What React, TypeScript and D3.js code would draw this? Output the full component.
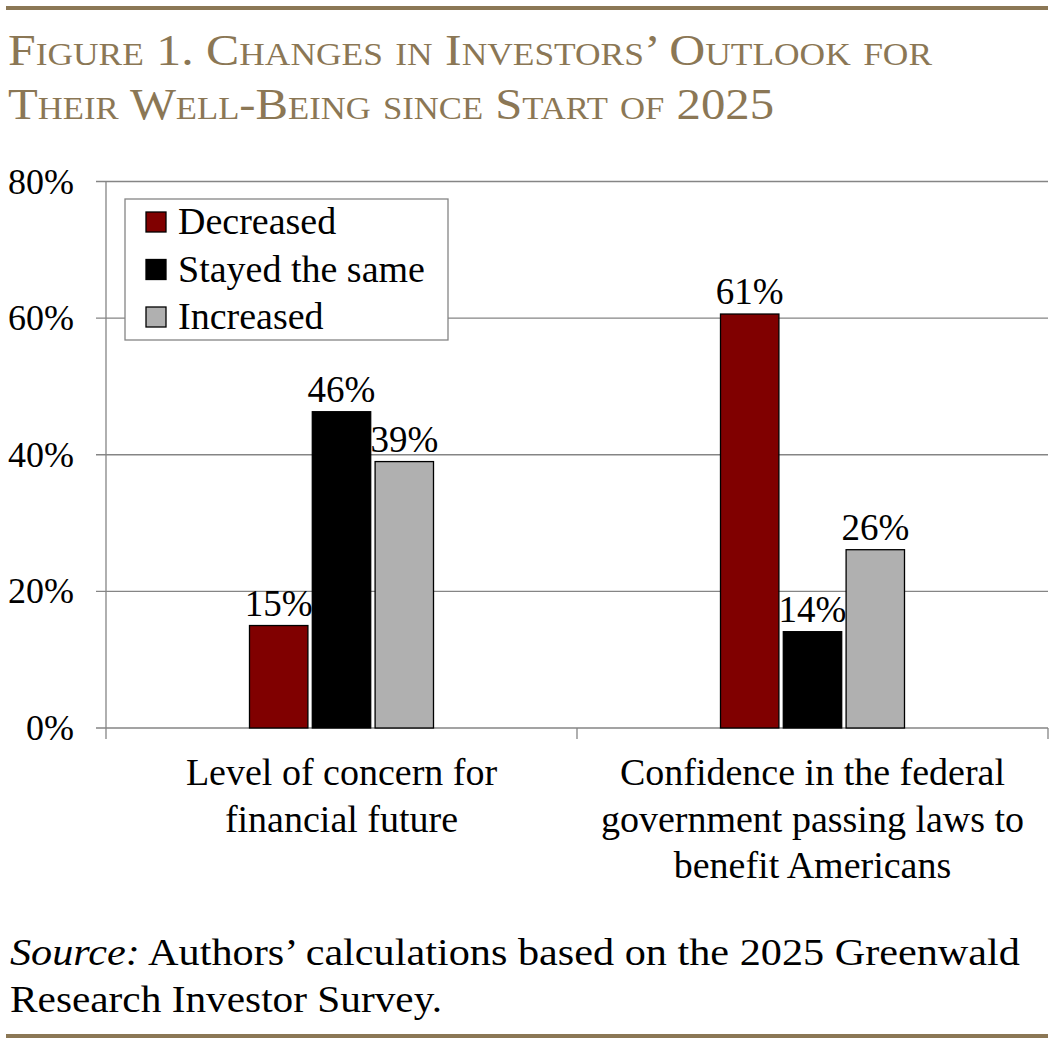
import { useEffect, useRef } from 'react'
import * as d3 from 'd3'

const categories = [
  ['Level of concern for', 'financial future'],
  ['Confidence in the federal', 'government passing laws to', 'benefit Americans'],
]
const seriesNames = ['Decreased', 'Stayed the same', 'Increased']
const seriesColors = ['#800000', '#000000', '#b0b0b0']
const decreased = [15, 60.6]
const stayedSame = [46.3, 14.1]
const increased = [39, 26.1]
const yTicks = [0, 20, 40, 60, 80]

const titleLines = ['Figure 1. Changes in Investors\u2019 Outlook for', 'Their Well-Being since Start of 2025']
const titleLengths = [924, 766]
const gold = '#8b7755'
const serif = '"Liberation Serif", "Times New Roman", serif'

export default function App() {
  const svgRef = useRef<SVGSVGElement>(null)
  const width = 1056
  const height = 1044

  useEffect(() => {
    if (!svgRef.current) return
    const svg = d3.select(svgRef.current)
    svg.selectAll('*').remove()

    // rules top and bottom
    svg.append('rect').attr('x', 6).attr('y', 6).attr('width', 1042).attr('height', 4).attr('fill', gold)
    svg.append('rect').attr('x', 6).attr('y', 1034).attr('width', 1042).attr('height', 4).attr('fill', gold)

    // title
    titleLines.forEach((t, i) => {
      svg.append('text')
        .attr('x', 8).attr('y', 65 + i * 54)
        .attr('fill', gold)
        .attr('font-family', serif)
        .attr('font-size', 45)
        .attr('textLength', titleLengths[i]).attr('lengthAdjust', 'spacingAndGlyphs')
        .style('font-variant', 'small-caps')
        .text(t)
    })

    const left = 106, right = 1048, top = 181.5, bottom = 728
    const x0 = d3.scaleBand<number>().domain(categories.map((_, i) => i)).range([left, right]).paddingInner(0).paddingOuter(0)
    const inner = d3.scaleBand<number>().domain([0, 1, 2]).range([0, 184]).paddingInner(0.07)
    const y = d3.scaleLinear().domain([0, 80]).range([bottom, top])

    // gridlines + y ticks
    const g = svg.append('g')
    yTicks.forEach(t => {
      g.append('line')
        .attr('x1', left - 10).attr('x2', right)
        .attr('y1', y(t)).attr('y2', y(t))
        .attr('stroke', '#858585').attr('stroke-width', 1.3)
      g.append('text')
        .attr('x', 74).attr('y', y(t) + 12)
        .attr('text-anchor', 'end')
        .attr('font-family', serif).attr('font-size', 36)
        .text(`${t}%`)
    })
    // y axis line
    g.append('line').attr('x1', left).attr('x2', left).attr('y1', top).attr('y2', bottom)
      .attr('stroke', '#858585').attr('stroke-width', 1.3)
    // x category ticks
    ;[left, left + x0.bandwidth(), right].forEach(xx => {
      g.append('line').attr('x1', xx).attr('x2', xx).attr('y1', bottom).attr('y2', bottom + 11)
        .attr('stroke', '#858585').attr('stroke-width', 1.3)
    })

    const series = [decreased, stayedSame, increased]
    categories.forEach((_, ci) => {
      const gx = x0(ci)! + (x0.bandwidth() - 184) / 2
      series.forEach((vals, si) => {
        const v = vals[ci]
        const bx = gx + inner(si)!
        g.append('rect')
          .attr('x', bx).attr('y', y(v))
          .attr('width', inner.bandwidth()).attr('height', bottom - y(v))
          .attr('fill', seriesColors[si])
          .attr('stroke', '#000').attr('stroke-width', 1.3)
        g.append('text')
          .attr('x', bx + inner.bandwidth() / 2).attr('y', y(v) - 10)
          .attr('text-anchor', 'middle')
          .attr('font-family', serif).attr('font-size', 37)
          .text(`${v.toFixed(0)}%`)
      })
    })

    // category labels
    categories.forEach((lines, ci) => {
      const cx = x0(ci)! + x0.bandwidth() / 2
      lines.forEach((l, li) => {
        g.append('text')
          .attr('x', cx).attr('y', 785 + li * 46.5)
          .attr('text-anchor', 'middle')
          .attr('font-family', serif).attr('font-size', 38)
          .text(l)
      })
    })

    // legend
    const lg = svg.append('g')
    lg.append('rect').attr('x', 125).attr('y', 199).attr('width', 323).attr('height', 141)
      .attr('fill', '#fff').attr('stroke', '#858585').attr('stroke-width', 1.3)
    seriesNames.forEach((name, i) => {
      const cy = 222 + i * 47.5
      lg.append('rect').attr('x', 146).attr('y', cy - 10).attr('width', 20).attr('height', 20)
        .attr('fill', seriesColors[i]).attr('stroke', '#000').attr('stroke-width', 1.3)
      lg.append('text').attr('x', 178).attr('y', cy + 12)
        .attr('font-family', serif).attr('font-size', 38)
        .text(name)
    })

    // source
    const src = svg.append('text').attr('x', 10).attr('y', 965)
      .attr('font-family', serif).attr('font-size', 37)
      .attr('textLength', 1010).attr('lengthAdjust', 'spacingAndGlyphs')
    src.append('tspan').attr('font-style', 'italic').text('Source:')
    src.append('tspan').text(' Authors\u2019 calculations based on the 2025 Greenwald')
    svg.append('text').attr('x', 10).attr('y', 1012)
      .attr('font-family', serif).attr('font-size', 37)
      .attr('textLength', 432).attr('lengthAdjust', 'spacingAndGlyphs')
      .text('Research Investor Survey.')
  }, [])

  return (
    <svg ref={svgRef} width={width} height={height}
      style={{ position: 'absolute', left: 0, top: 0, background: '#fff' }} />
  )
}
